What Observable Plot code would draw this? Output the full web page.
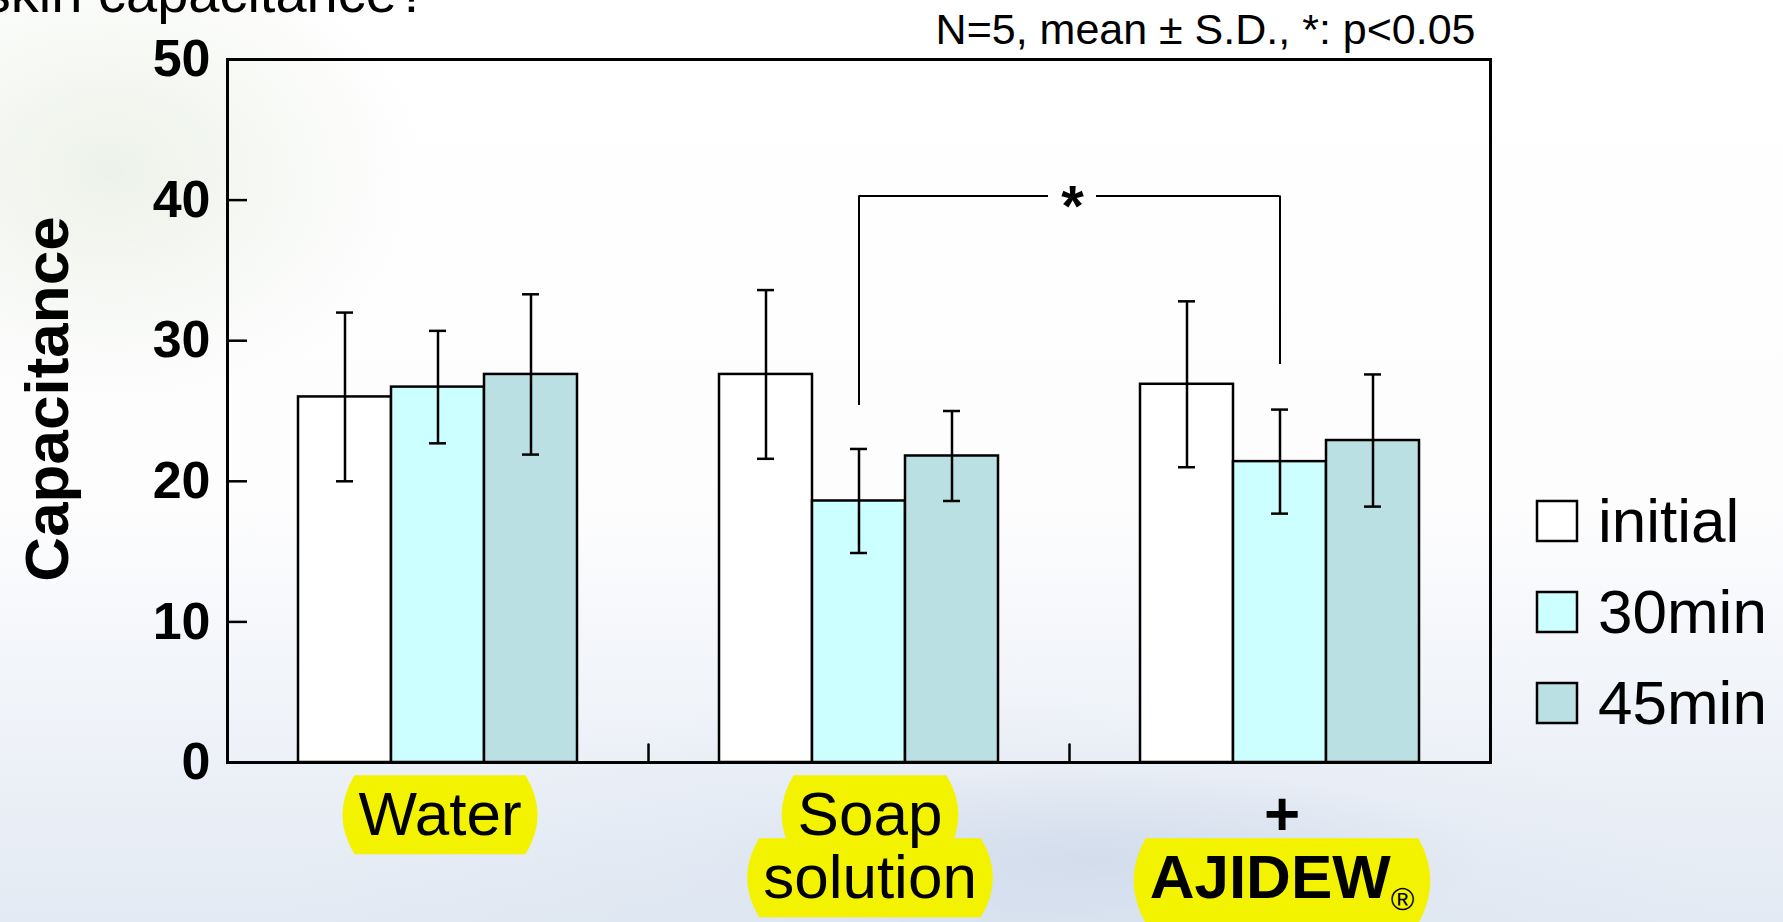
<!DOCTYPE html>
<html>
<head>
<meta charset="utf-8">
<script src="https://cdn.jsdelivr.net/npm/d3@7"></script>
<script src="https://cdn.jsdelivr.net/npm/@observablehq/plot@0.6"></script>
<style>
  html, body { margin: 0; padding: 0; }
  body {
    width: 1783px; height: 922px; overflow: hidden; position: relative;
    font-family: "Liberation Sans", Arial, sans-serif; color: #000;
    background:
      radial-gradient(ellipse 430px 330px at 110px 170px, rgba(220,230,212,0.5), rgba(255,255,255,0) 72%),
      radial-gradient(ellipse 520px 120px at 1100px 860px, rgba(200,212,230,0.55), rgba(255,255,255,0) 75%),
      radial-gradient(ellipse 900px 260px at 1000px 900px, rgba(215,225,240,0.6), rgba(255,255,255,0) 80%),
      linear-gradient(to bottom, #ffffff 0%, #fdfdfe 55%, #eef2f8 80%, #e3eaf3 100%);
  }
  #title { position: absolute; right: 1355px; top: -35px; font-size: 56px; line-height: 56px; white-space: nowrap; }
  #chart { position: absolute; left: 0; top: 0; }
  #legend { position: absolute; left: 1537px; top: 475px; }
  .leg-swatches { font-family: "Liberation Sans", Arial, sans-serif; font-size: 62px; margin: 0; color: #000; }
  .leg-swatch { height: 91px; padding: 0; }
  .leg-swatch > svg { margin-right: 21px; }
  .leg-swatch rect { stroke: #000; stroke-width: 2.5px; }
</style>
</head>
<body>
<div id="title">skin capacitance?</div>
<div id="chart"></div>
<div id="legend"></div>
<script>
// ---- data ----
const categories = ["Water", "Soap solution", "+AJIDEW"];
const series = ["initial", "30min", "45min"];
const seriesColors = ["#ffffff", "#ccffff", "#bbe0e3"];
const waterMean = [26.0, 26.7, 27.6];
const soapMean = [27.6, 18.6, 21.8];
const ajidewMean = [26.9, 21.4, 22.9];
const waterSD = [6.0, 4.0, 5.7];
const soapSD = [6.0, 3.7, 3.2];
const ajidewSD = [5.9, 3.7, 4.7];
const yTicks = [0, 10, 20, 30, 40, 50];
const labelText = ["Water", "Soap\nsolution", "+\nAJIDEW"];
const labelBold = [false, false, true];
const labelShift = [2, 11, 2];
const registered = "\u00AE";
const subtitle = "N=5, mean \u00B1 S.D., *: p<0.05";
const yLabel = "Capacitance";
const sigLevel = 40.3;
const sigText = "*";
const sigEnds = [
  {category: "Soap solution", series: "30min", y: 25.4},
  {category: "+AJIDEW", series: "30min", y: 28.3}
];

const means = [waterMean, soapMean, ajidewMean];
const sds = [waterSD, soapSD, ajidewSD];
const rows = categories.flatMap((c, i) =>
  series.map((s, j) => ({category: c, series: s, mean: means[i][j], sd: sds[i][j]})));

// ---- layout ----
const W = 1783, H = 922;
const mL = 226, mR = 293, mT = 59, mB = 160;
const facetW = (W - mL - mR) / categories.length;
const font = "'Liberation Sans', Arial, sans-serif";

const labelMarks = categories.map((c, i) =>
  Plot.text([c], {
    fx: d => d, text: () => labelText[i], frameAnchor: "bottom", lineAnchor: "top",
    lineHeight: 1.016, dx: labelShift[i], dy: 28, fontSize: 62,
    fontWeight: labelBold[i] ? "bold" : "normal", fill: "#000", className: "xlab"
  }));

const plot = Plot.plot({
  width: W, height: H,
  marginLeft: mL, marginRight: mR, marginTop: mT, marginBottom: mB,
  style: {background: "transparent", fontFamily: font, color: "#000", overflow: "visible"},
  fx: {domain: categories, padding: 0, axis: null},
  x: {domain: series, paddingInner: 0, paddingOuter: 0.75, axis: null},
  y: {domain: [0, 50], axis: null},
  color: {domain: series, range: seriesColors},
  marks: [
    Plot.barY(rows, {fx: "category", x: "series", y: "mean", fill: "series", stroke: "#000", strokeWidth: 2.5}),
    Plot.ruleX(rows, {fx: "category", x: "series", y1: d => d.mean - d.sd, y2: d => d.mean + d.sd, stroke: "#000", strokeWidth: 2.5}),
    Plot.tickY(rows, {fx: "category", x: "series", y: d => d.mean + d.sd, insetLeft: 38, insetRight: 38, stroke: "#000", strokeWidth: 2.5}),
    Plot.tickY(rows, {fx: "category", x: "series", y: d => d.mean - d.sd, insetLeft: 38, insetRight: 38, stroke: "#000", strokeWidth: 2.5}),
    Plot.frame({facet: "super", stroke: "#000", strokeWidth: 3}),
    // y axis: inward ticks + bold labels
    Plot.axisY(yTicks, {tickSize: 20, dx: 20, fill: "none", stroke: "#000", strokeWidth: 2.5, label: null}),
    Plot.axisY(yTicks, {tickSize: 0, tickPadding: 17, fontSize: 52, fontWeight: "bold", fill: "#000", label: null}),
    // category separators on the x axis
    Plot.vector(categories.slice(0, -1), {
      fx: d => d, frameAnchor: "bottom-right", length: 18, rotate: 0, anchor: "start",
      shape: {draw(ctx, l) { ctx.moveTo(0, 0); ctx.lineTo(0, -l); }},
      stroke: "#000", strokeWidth: 2.5
    }),
    // significance bracket
    Plot.ruleX(sigEnds, {fx: "category", x: "series", y1: "y", y2: sigLevel, stroke: "#000", strokeWidth: 2}),
    Plot.ruleY([sigEnds[0]], {fx: "category", y: () => sigLevel, insetLeft: facetW / 2, insetRight: 21, stroke: "#000", strokeWidth: 2}),
    Plot.ruleY([sigEnds[1]], {fx: "category", y: () => sigLevel, insetLeft: 27, insetRight: facetW / 2, stroke: "#000", strokeWidth: 2}),
    Plot.text([sigText], {fx: () => sigEnds[1].category, y: () => sigLevel, frameAnchor: "left", textAnchor: "middle", dx: 3, dy: 12, fontSize: 58, fontWeight: "bold", fill: "#000"}),
    // subtitle
    Plot.text([subtitle], {fx: () => categories[categories.length - 1], frameAnchor: "top-right", textAnchor: "end", lineAnchor: "bottom", dx: -15, dy: -16, fontSize: 43, fill: "#000"}),
    // y label
    Plot.text([yLabel], {fx: () => categories[0], frameAnchor: "left", textAnchor: "middle", rotate: -90, dx: -179, dy: -12, fontSize: 62, fontWeight: "bold", fill: "#000"}),
    // category labels
    ...labelMarks
  ]
});

document.getElementById("chart").append(plot);

// legend
const leg = plot.legend("color", {legend: "swatches", columns: 1, swatchSize: 40, className: "leg"});
document.getElementById("legend").append(leg);

// yellow highlights behind the category labels, plus the registered mark
const NS = "http://www.w3.org/2000/svg";
d3.select(plot).selectAll("g.xlab text").each(function() {
  const text = this;
  const tspans = [...text.children].filter(n => n.tagName === "tspan");
  const lines = tspans.length ? tspans : [text];
  for (const line of lines) {
    if (line.textContent === "AJIDEW") {
      const r = document.createElementNS(NS, "tspan");
      r.textContent = registered;
      r.setAttribute("font-size", 32);
      r.setAttribute("font-weight", "normal");
      r.setAttribute("dy", 12);
      line.appendChild(r);
    }
  }
  for (const line of lines) {
    if (!/[A-Za-z]/.test(line.textContent)) continue;
    const n = line.getNumberOfChars();
    let x0 = Infinity, y0 = Infinity, x1 = -Infinity, y1 = -Infinity;
    for (let i = 0; i < n; i++) {
      const b = line.getExtentOfChar(i);
      x0 = Math.min(x0, b.x); y0 = Math.min(y0, b.y);
      x1 = Math.max(x1, b.x + b.width); y1 = Math.max(y1, b.y + b.height);
    }
    x0 -= 16; x1 += 16; y0 -= 4; y1 += 6;
    const c = 12, my = (y0 + y1) / 2;
    const p = document.createElementNS(NS, "path");
    p.setAttribute("d", `M${x0 + c},${y0}L${x1 - c},${y0}Q${x1 + c},${my} ${x1 - c},${y1}L${x0 + c},${y1}Q${x0 - c},${my} ${x0 + c},${y0}Z`);
    p.setAttribute("fill", "#f3f300");
    p.setAttribute("stroke", "none");
    const tr = text.getAttribute("transform");
    if (tr) p.setAttribute("transform", tr);
    text.parentNode.insertBefore(p, text);
  }
});
</script>
</body>
</html>
